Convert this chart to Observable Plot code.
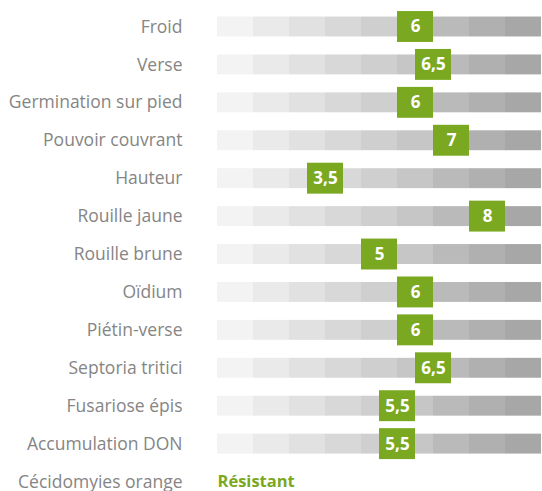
<!DOCTYPE html>
<html><head><meta charset="utf-8">
<script src="https://cdn.jsdelivr.net/npm/d3@7"></script>
<script src="https://cdn.jsdelivr.net/npm/@observablehq/plot@0.6"></script>
<style>body{margin:0;background:#fff;} svg{display:block;}</style>
</head><body><div id="chart"></div>
<script>
const traits = ["Froid","Verse","Germination sur pied","Pouvoir couvrant","Hauteur","Rouille jaune","Rouille brune","Oïdium","Piétin-verse","Septoria tritici","Fusariose épis","Accumulation DON"];
const scores = [6,6.5,6,7,3.5,8,5,6,6,6.5,5.5,5.5];
const lastRow = "Cécidomyies orange";
const lastValue = "Résistant";
const segments = [1,2,3,4,5,6,7,8,9];
const grays = ["#f3f3f3","#eaeaea","#e1e1e1","#d8d8d8","#cfcfcf","#c6c6c6","#bababa","#b0b0b0","#a7a7a7"];
const green = "#7aa821";

const rows = [...traits, lastRow];
const segData = traits.flatMap(t => segments.map(s => ({trait: t, s})));
const boxData = traits.map((t, i) => ({trait: t, v: scores[i], label: String(scores[i]).replace(".", ",")}));

const step = 37.92;
const top0 = 26.5 - step / 2;
const chart = Plot.plot({
  width: 542, height: 491,
  marginLeft: 217, marginRight: 1, marginTop: 0, marginBottom: 0,
  style: {fontFamily: "'Open Sans', sans-serif", background: "#fff", overflow: "visible"},
  x: {domain: [0, 9], axis: null},
  y: {type: "band", domain: rows, range: [top0, top0 + step * rows.length], padding: 0, round: false, label: null},
  marks: [
    Plot.axisY({tickSize: 0, tickPadding: 35, fontSize: 17.5, fill: "#858585", label: null}),
    Plot.rectX(segData, {x1: d => d.s - 1, x2: d => d.s, y: "trait", fill: d => grays[d.s - 1], insetTop: 9, insetBottom: 9}),
    Plot.rectX(boxData, {x1: d => d.v - 1, x2: d => d.v, y: "trait", fill: green, insetTop: 3.5, insetBottom: 3.5}),
    Plot.text(boxData, {x: d => d.v - 0.5, y: "trait", text: "label", fill: "#fff", fontSize: 17, fontWeight: "bold"}),
    Plot.text([lastValue], {x: 0, y: () => lastRow, text: d => d, textAnchor: "start", fill: green, fontSize: 16.5, fontWeight: "bold"})
  ]
});
document.getElementById("chart").appendChild(chart);
</script></body></html>
